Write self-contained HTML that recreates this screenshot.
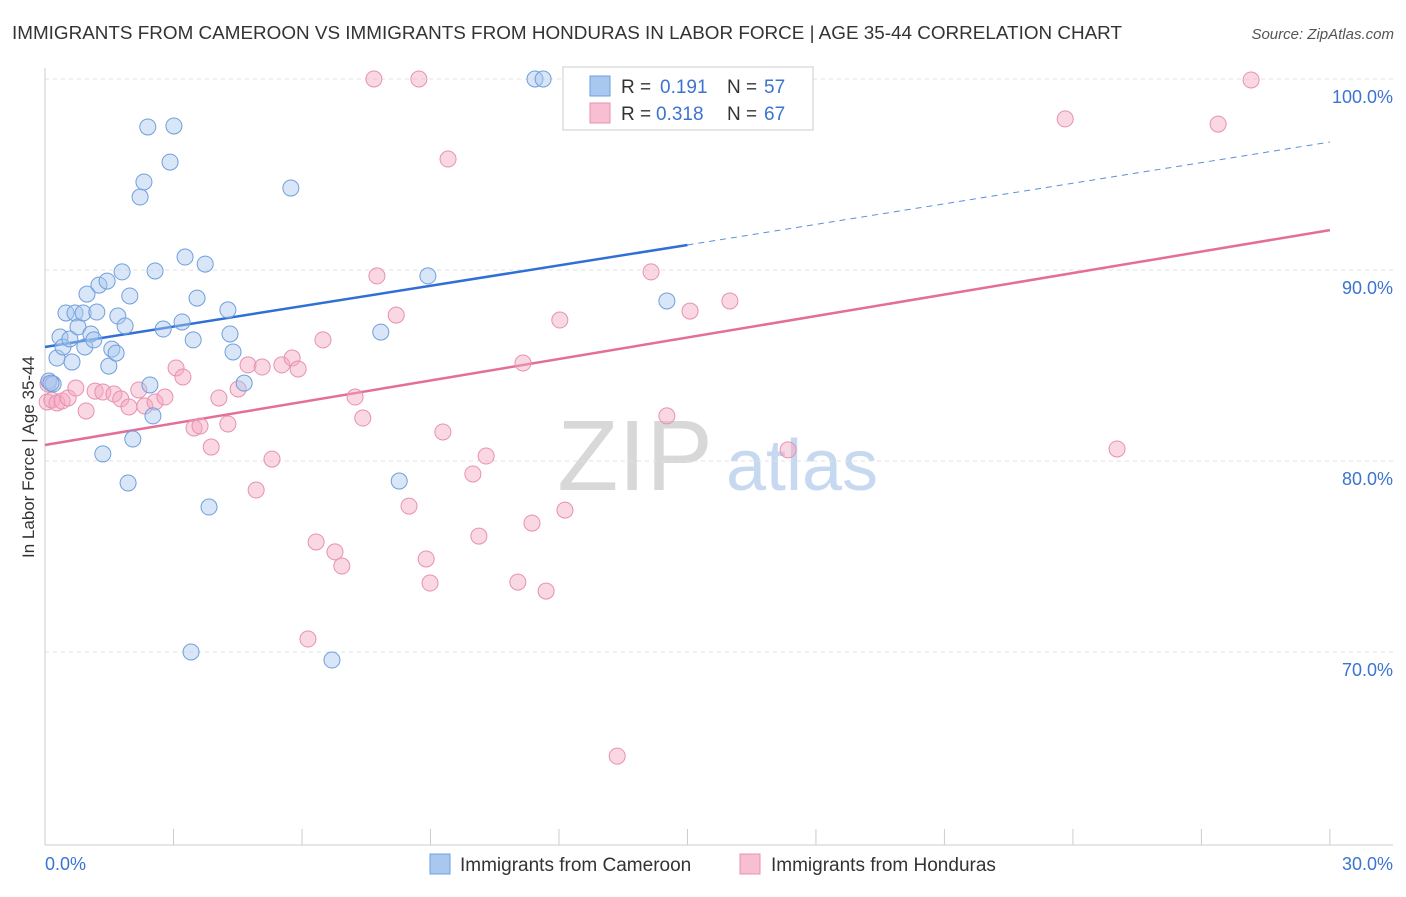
<!DOCTYPE html>
<html><head><meta charset="utf-8"><style>
body{margin:0;background:#fff;font-family:"Liberation Sans",sans-serif;}
svg text{font-family:"Liberation Sans",sans-serif;}
</style></head><body>
<svg id="chart" width="1406" height="892" xmlns="http://www.w3.org/2000/svg">
<text x="12" y="39" font-size="18.5" fill="#333" textLength="1110" lengthAdjust="spacingAndGlyphs">IMMIGRANTS FROM CAMEROON VS IMMIGRANTS FROM HONDURAS IN LABOR FORCE | AGE 35-44 CORRELATION CHART</text>
<text x="1394" y="39" font-size="15" fill="#555" text-anchor="end" font-style="italic">Source: ZipAtlas.com</text>
<text transform="translate(34,457) rotate(-90)" font-size="17" fill="#333" text-anchor="middle">In Labor Force | Age 35-44</text>
<g>
<text x="635" y="490" font-size="100" fill="#d8d8d8" text-anchor="middle" font-family="Liberation Serif, serif">ZIP</text>
<text x="802" y="490" font-size="72" fill="#c7d9f0" text-anchor="middle">atlas</text>
</g>
<g id="grid"></g>
<g id="axes"></g>
<g id="lines"></g>
<g id="pts"></g>
<g>
<rect x="563" y="67" width="250" height="63" fill="#fff" stroke="#ccc"/>
<rect x="590" y="76" width="20" height="20" fill="#a8c8f0" stroke="#6f9fdc"/>
<rect x="590" y="103" width="20" height="20" fill="#f8bfd2" stroke="#e890b0"/>
<text x="621" y="93" font-size="19" fill="#333">R =</text>
<text x="660" y="93" font-size="19" fill="#3b74d0">0.191</text>
<text x="727" y="93" font-size="19" fill="#333">N =</text>
<text x="764" y="93" font-size="19" fill="#3b74d0">57</text>
<text x="621" y="120" font-size="19" fill="#333">R =</text>
<text x="656" y="120" font-size="19" fill="#3b74d0">0.318</text>
<text x="727" y="120" font-size="19" fill="#333">N =</text>
<text x="764" y="120" font-size="19" fill="#3b74d0">67</text>
</g>
<g>
<rect x="430" y="854" width="20" height="20" fill="#a8c8f0" stroke="#6f9fdc"/>
<text x="460" y="871" font-size="19" fill="#333">Immigrants from Cameroon</text>
<rect x="740" y="854" width="20" height="20" fill="#f8bfd2" stroke="#e890b0"/>
<text x="771" y="871" font-size="19" fill="#333">Immigrants from Honduras</text>
</g>
</svg>
<script>
const yTicks=[100,90,80,70];
const yTickLabels=["100.0%","90.0%","80.0%","70.0%"];
const xTicks=[0,3,6,9,12,15,18,21,24,27,30];
const blueX=[0.09,0.19,0.14,0.28,0.35,0.42,0.49,0.58,0.63,0.70,0.77,0.89,0.93,0.98,1.07,1.14,1.21,1.26,1.35,1.45,1.49,1.56,1.66,1.70,1.80,1.87,1.98,2.05,1.94,2.22,2.31,2.40,2.45,2.52,2.57,2.76,2.92,3.01,3.20,3.27,3.46,3.55,3.74,3.83,3.41,4.27,4.32,4.39,4.65,5.74,6.70,7.84,8.27,8.94,11.44,11.63,14.52];
const blueY=[84.19,84.03,84.08,85.39,86.49,85.97,87.75,86.39,85.18,87.75,87.02,87.75,85.97,88.74,86.65,86.34,87.80,89.21,80.37,89.42,84.97,85.86,85.65,87.59,89.90,87.07,88.64,81.15,78.85,93.82,94.61,97.49,83.98,82.36,89.95,86.91,95.65,97.54,87.28,90.68,86.34,88.53,90.31,77.59,70.0,87.91,86.65,85.71,84.08,94.29,69.58,86.75,78.95,89.69,100,100,88.38];
const pinkX=[0.05,0.16,0.28,0.40,0.54,0.72,0.96,1.17,1.35,1.61,1.77,1.96,2.19,2.33,2.57,2.80,3.06,3.22,3.48,3.62,3.88,4.06,4.27,4.51,4.74,4.93,5.07,5.30,5.53,5.77,5.91,6.14,6.33,6.49,6.77,6.93,7.24,7.42,7.68,7.75,8.20,8.50,8.73,8.90,8.99,9.29,9.41,9.99,10.13,10.30,11.04,11.16,11.37,11.70,12.02,12.14,13.36,14.15,14.52,15.06,15.99,17.35,23.82,25.03,27.39,28.16,0.07];
const pinkY=[83.09,83.19,83.04,83.14,83.30,83.82,82.62,83.66,83.61,83.51,83.25,82.83,83.72,82.88,83.09,83.35,84.87,84.40,81.73,81.83,80.73,83.30,81.94,83.77,85.03,78.48,84.92,80.10,85.03,85.39,84.82,70.68,75.76,86.34,75.24,74.50,83.35,82.25,100,89.69,87.64,77.64,100,74.87,73.61,81.52,95.81,79.32,76.07,80.26,73.66,85.13,76.75,73.19,87.38,77.43,64.55,89.90,82.36,87.85,88.38,80.58,97.91,80.63,97.64,99.95,84.03];
const blueTrend=[85.97,91.31,96.7]; // at x=0, 15, 30
const pinkTrend=[80.84,92.09]; // at x=0, 30
const X=v=>45+v*42.83, Y=v=>79+(100-v)*19.1;
const NS="http://www.w3.org/2000/svg";
function mk(t,a,p){const e=document.createElementNS(NS,t);for(const k in a)e.setAttribute(k,a[k]);p.appendChild(e);return e;}
const grid=document.getElementById('grid'),axes=document.getElementById('axes'),lines=document.getElementById('lines'),pts=document.getElementById('pts');
yTicks.forEach((t,i)=>{
 const l=mk('line',{x1:45,x2:1393,y1:Y(t),y2:Y(t),stroke:'#e2e2e2','stroke-dasharray':'4,4'},grid);
 
 
 const tx=mk('text',{x:1393,y:Y(t)+24,'font-size':18,fill:'#3b74d0','text-anchor':'end'},axes);
 tx.textContent=yTickLabels[i];
 
 
});
let a=mk('line',{x1:45,x2:45,y1:68,y2:845,stroke:'#ccc'},axes);


a=mk('line',{x1:45,x2:1393,y1:845,y2:845,stroke:'#ccc'},axes);


xTicks.forEach(t=>{const l=mk('line',{x1:X(t),x2:X(t),y1:829,y2:845,stroke:'#ccc'},axes);
 
 });
let tl=mk('text',{x:45,y:870,'font-size':18,fill:'#3b74d0'},axes);tl.textContent=xTicks[0].toFixed(1)+'%';


tl=mk('text',{x:1393,y:870,'font-size':18,fill:'#3b74d0','text-anchor':'end'},axes);tl.textContent=xTicks[xTicks.length-1].toFixed(1)+'%';


function dots(xs,ys,fill,stroke,name){xs.forEach((x,i)=>{const c=mk('circle',{cx:X(x),cy:Y(ys[i]),r:8,fill:fill,'fill-opacity':0.45,stroke:stroke,'stroke-width':1},pts);
 
 });}
dots(pinkX,pinkY,'#f5a8c2','#e890b0','honduras-point');
dots(blueX,blueY,'#a8c8f0','#6f9fdc','cameroon-point');
let ln=mk('line',{x1:X(0),y1:Y(blueTrend[0]),x2:X(15),y2:Y(blueTrend[1]),stroke:'#2f6fd6','stroke-width':2.5},lines);


ln=mk('line',{x1:X(15),y1:Y(blueTrend[1]),x2:X(30),y2:Y(blueTrend[2]),stroke:'#5a8fdc','stroke-width':1,'stroke-dasharray':'6,5'},lines);


ln=mk('line',{x1:X(0),y1:Y(pinkTrend[0]),x2:X(30),y2:Y(pinkTrend[1]),stroke:'#e46d9a','stroke-width':2.5},lines);


</script>
</body></html>
